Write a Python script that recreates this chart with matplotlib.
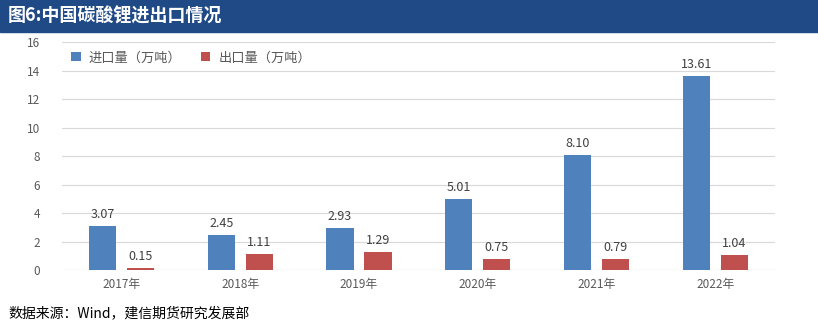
import matplotlib

matplotlib.use("Agg")
from matplotlib import pyplot as plt
from matplotlib.patches import Rectangle
import numpy as np

plt.rcParams["font.family"] = ["Noto Sans CJK SC", "DejaVu Sans"]

years = ["2017年", "2018年", "2019年", "2020年", "2021年", "2022年"]
imports = [3.07, 2.45, 2.93, 5.01, 8.10, 13.61]
exports = [0.15, 1.11, 1.29, 0.75, 0.79, 1.04]

BLUE = "#4F81BD"
RED = "#C0504D"
GREY = "#595959"

fig = plt.figure(figsize=(8.18, 3.36), dpi=100)

# title bar
fig.patches.append(Rectangle((0, 0.905), 1, 0.095, transform=fig.transFigure,
                             color="#1F4A85", zorder=0))
fig.text(0.01, 0.952, "图6:中国碳酸锂进出口情况", color="white", fontsize=13,
         fontweight="bold", va="center", ha="left")

ax = fig.add_axes([0.076, 0.196, 0.871, 0.679])
x = np.arange(len(years))
w = 0.23
off = 0.16
b1 = ax.bar(x - off, imports, w, color=BLUE, label="进口量（万吨）", zorder=3)
b2 = ax.bar(x + off, exports, w, color=RED, label="出口量（万吨）", zorder=3)

for bars, vals in ((b1, imports), (b2, exports)):
    for r, v in zip(bars, vals):
        ax.text(r.get_x() + r.get_width() / 2, v + 0.35, f"{v:.2f}",
                ha="center", va="bottom", fontsize=9, color="#404040")

ax.set_xlim(-0.5, len(years) - 0.5)
ax.set_ylim(0, 16)
ax.set_yticks(range(0, 17, 2))
ax.set_xticks(x)
ax.set_xticklabels(years)
ax.tick_params(axis="both", length=0, labelsize=8.5, colors=GREY)
ax.tick_params(axis="y", pad=16)
ax.tick_params(axis="x", pad=6)
ax.grid(axis="y", color="#D9D9D9", lw=0.8, zorder=0)
for s in ax.spines.values():
    s.set_visible(False)
ax.axhline(0, color="#D9D9D9", lw=0.8, zorder=2)

leg = ax.legend(loc="upper left", bbox_to_anchor=(0.0, 1.0), ncol=2, frameon=False,
                fontsize=9.5, handlelength=0.7, handleheight=0.7, columnspacing=1.5,
                handletextpad=0.6, borderaxespad=0.3)
for t in leg.get_texts():
    t.set_color(GREY)

fig.text(0.01, 0.068, "数据来源：Wind，建信期货研究发展部", fontsize=10, color="black",
         va="center", ha="left", style="italic")

fig.savefig("out.png", dpi=100)
